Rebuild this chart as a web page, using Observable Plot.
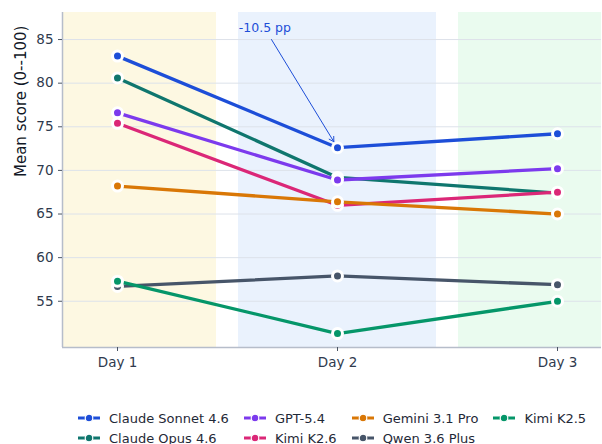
<!DOCTYPE html>
<html>
<head>
<meta charset="utf-8">
<script src="https://cdn.jsdelivr.net/npm/d3@7"></script>
<script src="https://cdn.jsdelivr.net/npm/@observablehq/plot@0.6"></script>
<style>
  body { margin: 0; background: #fff; font-family: "DejaVu Sans", sans-serif; }
  #chart { width: 602px; height: 444px; position: relative; overflow: hidden; }
  #legend {
    position: absolute; left: 78px; top: 408px;
    display: grid; grid-auto-flow: column; grid-template-rows: repeat(2, 20px);
    column-gap: 15px; font-size: 13px; color: #1f2937;
  }
  .item { display: flex; align-items: center; white-space: nowrap; }
  .item svg { margin-right: 9px; }
</style>
</head>
<body>
<div id="chart"></div>
<script>
// ---- data ----
const days = [1, 2, 3];
const dayLabels = ["Day 1", "Day 2", "Day 3"];
const models = ["Claude Sonnet 4.6", "Claude Opus 4.6", "GPT-5.4", "Kimi K2.6", "Gemini 3.1 Pro", "Qwen 3.6 Plus", "Kimi K2.5"];
const modelColors = ["#1d4ed8", "#0f766e", "#7c3aed", "#db2777", "#d97706", "#475569", "#059669"];
const sonnet = [83.1, 72.6, 74.2];
const opus   = [80.6, 69.2, 67.4];
const gpt    = [76.6, 68.9, 70.2];
const kimi26 = [75.4, 66.0, 67.5];
const gemini = [68.2, 66.4, 65.0];
const qwen   = [56.7, 57.9, 56.9];
const kimi25 = [57.3, 51.3, 55.0];
const seriesValues = [sonnet, opus, gpt, kimi26, gemini, qwen, kimi25];
const yTicks = [55, 60, 65, 70, 75, 80, 85];
const bandColors = ["#fdf8e2", "#eaf2fd", "#eafbef"];
const annotationText = ["-10.5 pp"];
const annotationTextPos = [1.67, 86.37];
const annotationArrowStart = [1.70, 85.0];
const annotationTarget = [2, 72.6];

const xDomain = [0.75, 3.2];
const yDomain = [49.7, 88.1];

const rows = models.flatMap((m, i) => days.map((d, j) => ({model: m, day: d, value: seriesValues[i][j], color: modelColors[i]})));
const bands = days.map((d, i) => ({x1: d - 0.45, x2: d + 0.45, color: bandColors[i]}));

const font = "DejaVu Sans, sans-serif";
const tickColor = "#2f3a4d";
const spine = "#b6bdca";

const lineMarks = models.flatMap((m, i) => {
  const data = rows.filter(r => r.model === m);
  return [
    Plot.line(data, {x: "day", y: "value", stroke: modelColors[i], strokeWidth: 3.3}),
    Plot.dot(data, {x: "day", y: "value", r: 5, fill: modelColors[i], stroke: "white", strokeWidth: 3})
  ];
});

const plot = Plot.plot({
  width: 602,
  height: 400,
  marginLeft: 62,
  marginRight: 1,
  marginTop: 12,
  marginBottom: 53,
  style: {fontFamily: font, background: "transparent", overflow: "visible"},
  x: {type: "linear", domain: xDomain},
  y: {domain: yDomain},
  marks: [
    Plot.rect(bands, {x1: "x1", x2: "x2", y1: yDomain[0], y2: yDomain[1], fill: "color", clip: true}),
    Plot.ruleY(yTicks, {stroke: "#dde2ea", strokeWidth: 1}),
    ...lineMarks,
    Plot.arrow([0], {
      x1: () => annotationArrowStart[0], y1: () => annotationArrowStart[1],
      x2: () => annotationTarget[0], y2: () => annotationTarget[1],
      stroke: "#1d4ed8", strokeWidth: 1, headLength: 8, insetEnd: 7, bend: 0
    }),
    Plot.text(annotationText, {x: () => annotationTextPos[0], y: () => annotationTextPos[1], text: d => d, fill: "#1d4ed8", fontSize: 12.5, textAnchor: "middle"}),
    Plot.ruleX([xDomain[0]], {stroke: spine, strokeWidth: 1.5}),
    Plot.ruleY([yDomain[0]], {stroke: spine, strokeWidth: 1.5}),
    Plot.axisY({ticks: yTicks, tickSize: 4, tickPadding: 5, fontSize: 13.5, color: tickColor, stroke: "#4b5563", label: null}),
    Plot.axisX({ticks: days, tickFormat: (d) => dayLabels[days.indexOf(d)], tickSize: 4, tickPadding: 6, fontSize: 13.5, color: tickColor, stroke: "#4b5563", label: null}),
    Plot.text(["Mean score (0--100)"], {frameAnchor: "left", rotate: -90, dx: -41, dy: -3, fontSize: 15, fill: "#111827"})
  ]
});

const chart = document.getElementById("chart");
chart.appendChild(plot);

const legend = document.createElement("div");
legend.id = "legend";
models.forEach((m, i) => {
  const item = document.createElement("div");
  item.className = "item";
  item.innerHTML = `<svg width="22" height="10"><line x1="0" y1="5" x2="22" y2="5" stroke="${modelColors[i]}" stroke-width="3"/><circle cx="11" cy="5" r="3.8" fill="${modelColors[i]}" stroke="white" stroke-width="1.2"/></svg><span>${m}</span>`;
  legend.appendChild(item);
});
chart.appendChild(legend);
</script>
</body>
</html>
